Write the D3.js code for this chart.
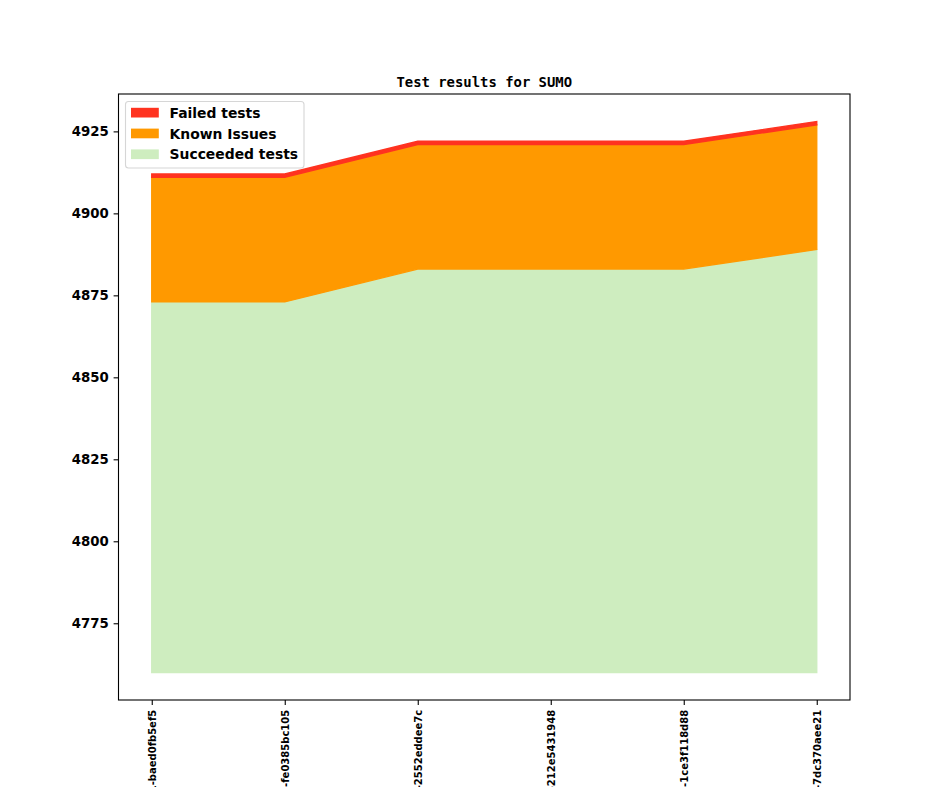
<!DOCTYPE html>
<html>
<head>
<meta charset="utf-8">
<script src="https://cdn.jsdelivr.net/npm/d3@7"></script>
<style>
  body { margin: 0; background: #fff; }
</style>
</head>
<body>
<svg id="chart" width="944" height="787" font-family="DejaVu Sans"></svg>
<script>
// builds (x axis)
let builds = [
  "v1_20_0+0391-baed0fb5ef5",
  "v1_20_0+0412-fe0385bc105",
  "v1_20_0+0437-2552eddee7c",
  "v1_20_0+0455-212e5431948",
  "v1_20_0+0478-1ce3f118d88",
  "v1_20_0+0502-7dc370aee21"
];
// the stack does not start at 0 in the picture
let baseline = [4760, 4760, 4760, 4760, 4760, 4760];
let succeeded = [113, 113, 123, 123, 123, 129];
let known_issues = [38, 38, 38, 38, 38, 38];
let failed = [1, 1, 1, 1, 1, 1];
let y_tick_values = [4775, 4800, 4825, 4850, 4875, 4900, 4925];

let series_names = ["Succeeded tests", "Known Issues", "Failed tests"];
let series_colors = ["#ceedbf", "#ff9900", "#ff3320"];

let svg = d3.select("#chart");
let width = 944, height = 787;
let margin = {left: 118.5, right: 94, top: 94, bottom: 87};

let rows = builds.map((b, i) => ({
  build: b,
  base: baseline[i],
  s0: succeeded[i],
  s1: known_issues[i],
  s2: failed[i]
}));

let stack = d3.stack().keys(["base", "s0", "s1", "s2"]);
let stacked = stack(rows);

let y_min = d3.min(baseline);
let y_max = d3.max(stacked[3], d => d[1]);
let pad = (y_max - y_min) * 0.05;

let x = d3.scalePoint()
  .domain(builds)
  .range([margin.left, width - margin.right])
  .padding(0.25);

let y = d3.scaleLinear()
  .domain([y_min - pad, y_max + pad])
  .range([height - margin.bottom, margin.top]);

let area = d3.area()
  .x(d => x(d.data.build))
  .y0(d => y(d[0]))
  .y1(d => y(d[1]));

// skip the hidden baseline layer
let layers = svg.append("g").attr("class", "layers");
stacked.slice(1).forEach((layer, i) => {
  layers.append("path")
    .attr("d", area(layer))
    .attr("fill", series_colors[i])
    .attr("stroke", series_colors[i])
    .attr("stroke-width", 1.39)
    .attr("stroke-linejoin", "miter");
});

// axes
let y_axis = svg.append("g")
  .attr("transform", "translate(" + margin.left + ",0)")
  .call(d3.axisLeft(y).tickValues(y_tick_values).tickSize(4.9).tickPadding(4.9).tickFormat(d3.format("d")));
y_axis.select(".domain").remove();
y_axis.selectAll("text")
  .attr("font-size", "13.3px").attr("font-weight", "bold").attr("fill", "#000")
  .attr("font-family", "DejaVu Sans");
y_axis.selectAll("line").attr("stroke", "#000").attr("stroke-width", 1.1);

let x_axis = svg.append("g")
  .attr("transform", "translate(0," + (height - margin.bottom) + ")")
  .call(d3.axisBottom(x).tickSize(4.9).tickPadding(0));
x_axis.select(".domain").remove();
x_axis.selectAll("line").attr("stroke", "#000").attr("stroke-width", 1.1);
x_axis.selectAll("text")
  .attr("font-size", "10px").attr("font-weight", "bold").attr("fill", "#000")
  .attr("font-family", "DejaVu Sans")
  .attr("text-anchor", "end")
  .attr("transform", "translate(0,9.8) rotate(-90)")
  .attr("x", 0).attr("y", 0).attr("dy", "0.35em");

// frame
svg.append("rect")
  .attr("x", margin.left).attr("y", margin.top)
  .attr("width", width - margin.right - margin.left)
  .attr("height", height - margin.bottom - margin.top)
  .attr("fill", "none").attr("stroke", "#000").attr("stroke-width", 1.1);

// title
svg.append("text")
  .attr("x", (margin.left + width - margin.right) / 2).attr("y", 86.5)
  .attr("text-anchor", "middle")
  .attr("font-family", "DejaVu Sans Mono").attr("font-weight", "bold")
  .attr("font-size", "13.9px")
  .text("Test results for SUMO");

// legend, top series first
let legend = svg.append("g").attr("class", "legend");
legend.append("rect")
  .attr("x", 125.5).attr("y", 101.5).attr("width", 178.5).attr("height", 66.5)
  .attr("rx", 3).attr("fill", "#fff").attr("fill-opacity", 0.8)
  .attr("stroke", "#d6d6d6").attr("stroke-width", 1.1);
let legend_items = legend.selectAll(".item")
  .data([2, 1, 0]).enter().append("g").attr("class", "item")
  .attr("transform", (d, i) => "translate(131," + (112.7 + i * 20.8) + ")");
legend_items.append("rect")
  .attr("x", 0).attr("y", -4.9).attr("width", 27.8).attr("height", 9.7)
  .attr("fill", d => series_colors[d]);
legend_items.append("text")
  .attr("x", 38.5).attr("dy", "0.36em")
  .attr("font-size", "13.9px").attr("font-weight", "bold")
  .text(d => series_names[d]);
</script>
</body>
</html>
